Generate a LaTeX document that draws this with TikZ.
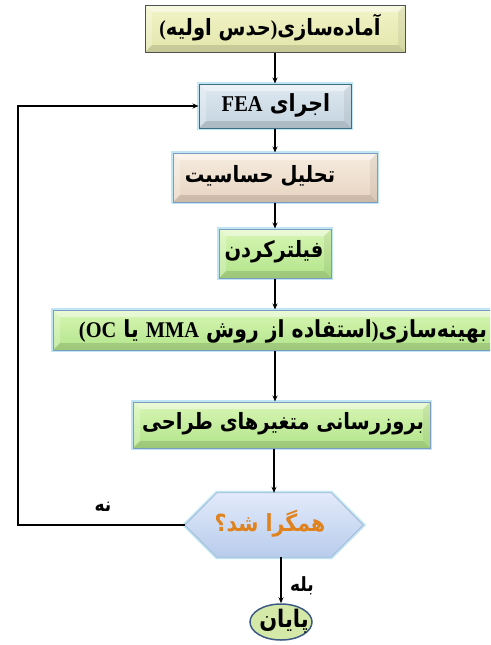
\documentclass[tikz,border=0pt]{standalone}
\usepackage{fontspec}
\usepackage{graphicx}
\setmainfont{DejaVu Sans}
\newfontfamily\fa[Script=Arabic]{DejaVu Sans}
\newfontfamily\lat{Liberation Serif}
\TeXXeTstate=1
\newcommand{\ptxt}[1]{\scalebox{1}[1.15]{\beginR #1\endR}}
\newcommand{\ltx}[1]{\scalebox{1}[1.1]{\lat\bfseries #1}}
\usetikzlibrary{arrows.meta,shapes.geometric}
\definecolor{glowblue}{HTML}{A8DCEE}
\definecolor{bordgray}{HTML}{505050}
\definecolor{bordteal}{HTML}{3A6E80}
\definecolor{bordblue}{HTML}{7C9CC4}
\definecolor{orangetxt}{HTML}{E0821E}
\definecolor{endbord}{HTML}{3C5A84}
\tikzset{
  bevel/.style={path picture={
    \fill[white,opacity=0.45] (path picture bounding box.north west) -- (path picture bounding box.north east)
      -- ([shift={(-7pt,-7pt)}]path picture bounding box.north east) -- ([shift={(7pt,-7pt)}]path picture bounding box.north west) -- cycle;
    \fill[white,opacity=0.25] (path picture bounding box.north west) -- (path picture bounding box.south west)
      -- ([shift={(7pt,7pt)}]path picture bounding box.south west) -- ([shift={(7pt,-7pt)}]path picture bounding box.north west) -- cycle;
    \fill[black,opacity=0.12] (path picture bounding box.south west) -- (path picture bounding box.south east)
      -- ([shift={(-7pt,7pt)}]path picture bounding box.south east) -- ([shift={(7pt,7pt)}]path picture bounding box.south west) -- cycle;
    \fill[black,opacity=0.06] (path picture bounding box.north east) -- (path picture bounding box.south east)
      -- ([shift={(-7pt,7pt)}]path picture bounding box.south east) -- ([shift={(-7pt,-7pt)}]path picture bounding box.north east) -- cycle;
  }},
  pbox/.style={rectangle, inner sep=0pt, bevel, line width=1pt},
  ptext/.style={inner sep=0pt, font=\fa\bfseries\fontsize{19.5}{22}\selectfont},
  glow/.style={preaction={draw=glowblue, line width=4pt, opacity=0.7}},
  greenfill/.style={top color={rgb,255:red,216;green,246;blue,180}, bottom color={rgb,255:red,178;green,228;blue,138}},
  arr/.style={draw=black, line width=1.4pt, -{Stealth[length=6pt,width=5pt]}},
  lbl/.style={font=\fa\bfseries\fontsize{17}{19}\selectfont, inner sep=0pt}
}
\begin{document}
\begin{tikzpicture}[x=1pt,y=-1pt]
\useasboundingbox (0,0) rectangle (490,645);
\clip (0,0) rectangle (490,645);
\fill[white] (0,0) rectangle (490,645);

\node[pbox, draw=bordgray, top color={rgb,255:red,242;green,244;blue,200}, bottom color={rgb,255:red,226;green,230;blue,170},
  minimum width=260pt, minimum height=47pt] (init) at (275,28.5) {};
\node[ptext] (initt) at (270,28) {\ltx{(}\ptxt{حدس اولیه}\ltx{)}\ptxt{آماده‌سازی}};

\node[pbox, glow, draw=bordteal, top color={rgb,255:red,222;green,232;blue,240}, bottom color={rgb,255:red,196;green,212;blue,224},
  minimum width=152pt, minimum height=44pt] (fea) at (275,106) {};
\node[ptext, font=\fa\bfseries\fontsize{20.5}{22}\selectfont] (feat) at (276,105)
  {\ltx{FEA} \ptxt{اجرای}};

\node[pbox, glow, draw=bordblue, top color={rgb,255:red,246;green,236;blue,224}, bottom color={rgb,255:red,232;green,212;blue,192},
  minimum width=204pt, minimum height=49pt] (sens) at (275,177.5) {};
\node[ptext] (senst) at (260,176) {\ptxt{تحلیل حساسیت}};

\node[pbox, glow, greenfill, draw=bordblue, minimum width=112pt, minimum height=49pt] (filt) at (275,253.5) {};
\node[ptext] (filtt) at (274,252) {\ptxt{فیلترکردن}};

\node[pbox, glow, greenfill, draw=bordblue, minimum width=444pt, minimum height=40pt] (opt) at (275,330) {};
\node[ptext, font=\fa\bfseries\fontsize{20}{22}\selectfont] (optt) at (283,331)
  {\resizebox{408pt}{!}{\ltx{(OC} \ptxt{یا} \ltx{MMA} \ptxt{استفاده از روش}\ltx{)}\ptxt{بهینه‌سازی}}};

\node[pbox, glow, greenfill, draw=bordblue, minimum width=297pt, minimum height=46pt] (upd) at (281.5,425) {};
\node[ptext] (updt) at (283,424) {\ptxt{بروزرسانی متغیرهای طراحی}};

% decision hexagon
\node[minimum width=178pt, minimum height=64pt, inner sep=0pt] (conv) at (274,525) {};
\path[glow, draw=bordblue!70, line width=0.8pt, top color={rgb,255:red,226;green,234;blue,250}, bottom color={rgb,255:red,184;green,204;blue,236}]
  (conv.west) -- ([xshift=32pt]conv.north west) -- ([xshift=-32pt]conv.north east)
  -- (conv.east) -- ([xshift=-32pt]conv.south east) -- ([xshift=32pt]conv.south west) -- cycle;
\node[ptext, font=\fa\bfseries\fontsize{20.5}{22}\selectfont, text=orangetxt] (convt) at (270,524) {\ptxt{همگرا شد؟}};

% end ellipse
\node[ellipse, draw=endbord, line width=1.5pt, fill={rgb,255:red,212;green,232;blue,168},
  minimum width=62pt, minimum height=36pt, inner sep=0pt] (endn) at (281,622) {};
\node[ptext, font=\fa\bfseries\fontsize{21}{22}\selectfont] (endt) at (284,621) {\ptxt{پایان}};

% connectors
\draw[arr] (init) -- (fea);
\draw[arr] (fea) -- (sens);
\draw[arr] (sens) -- (filt);
\draw[arr] (filt) -- (opt);
\draw[arr] (opt.south) -- (opt.south |- upd.north);
\draw[arr] (upd.south -| conv.north) -- (conv.north);
\draw[arr] (conv.south -| endn.north) -- (endn.north);
\coordinate (loopL) at (18,525);
\draw[arr] (conv.west) -- (conv.west -| loopL) |- (fea.west);

\node[lbl] (no) at (103,507) {\ptxt{نه}};
\node[lbl] (yes) at (302,586) {\ptxt{بله}};
\end{tikzpicture}
\end{document}
